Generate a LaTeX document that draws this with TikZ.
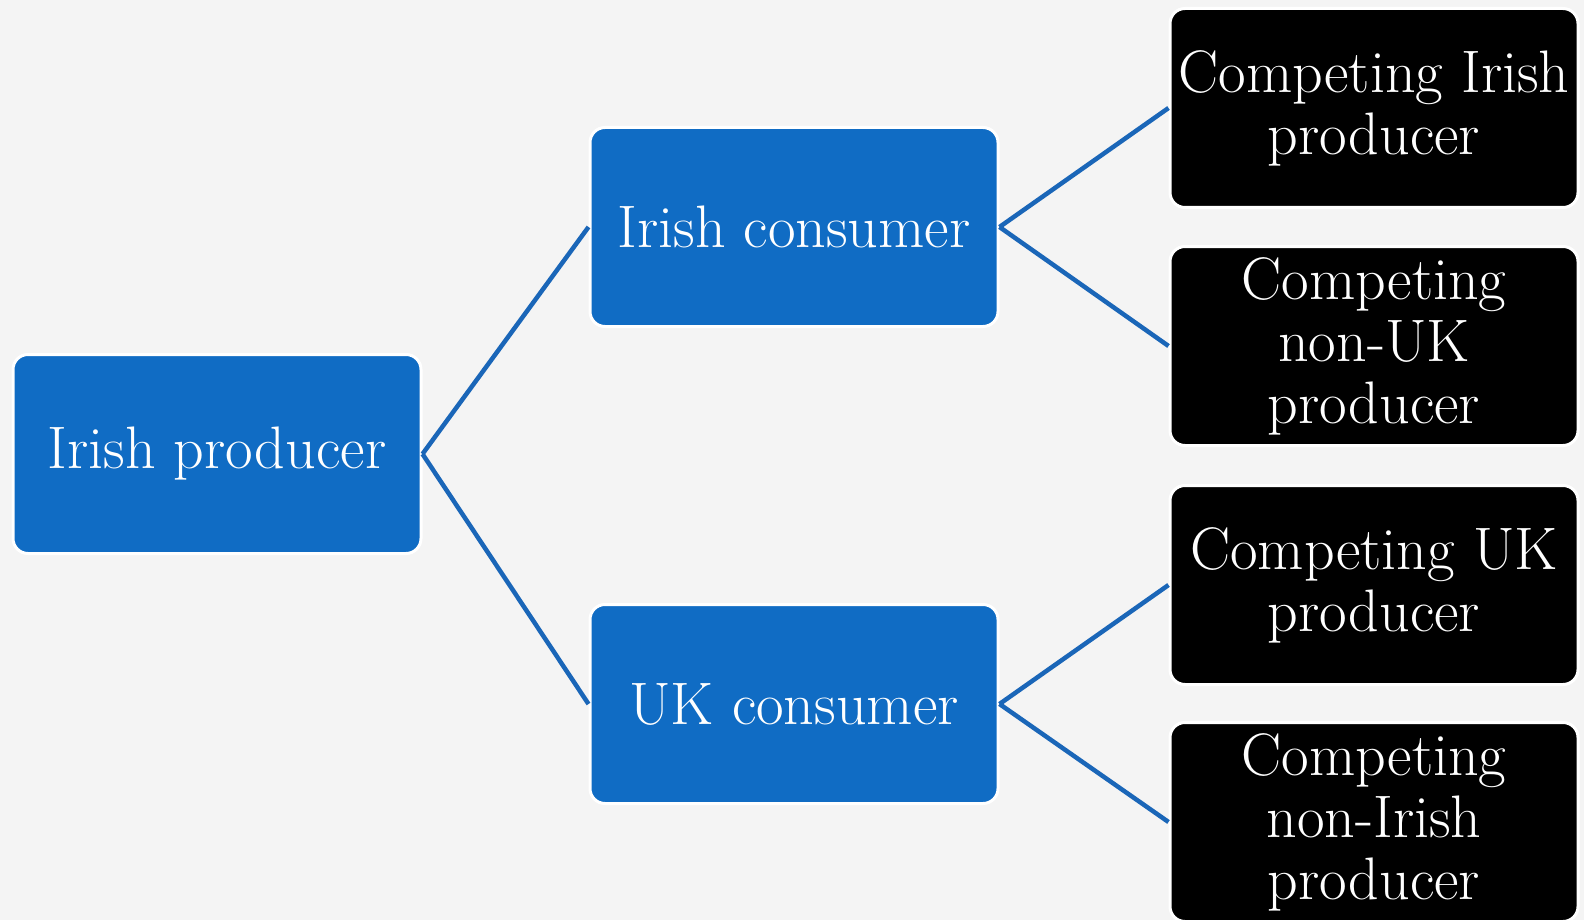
\documentclass[tikz,border=0pt]{standalone}
\usepackage{fontspec}
\definecolor{boxblue}{RGB}{16,108,196}
\definecolor{linkblue}{RGB}{26,102,184}
\definecolor{paper}{RGB}{244,244,244}

\begin{document}
\begin{tikzpicture}[x=1pt, y=-1pt,
    bluebox/.style={rectangle, rounded corners=15pt, fill=boxblue, draw=white, line width=3pt,
        text=white, inner sep=0pt, minimum width=408pt, minimum height=199pt,
        font=\fontsize{60}{62}\selectfont},
    blackbox/.style={bluebox, fill=black, align=center},
    link/.style={draw=linkblue, line width=4.5pt}]
     \useasboundingbox[fill=paper] (0,0) rectangle (1584,920);
     \node [bluebox] (P) at (217,454) {Irish producer};
     \node [bluebox] (IC) at (794,227) {Irish consumer};
     \node [bluebox] (UC) at (794,704) {UK consumer};
     \node [blackbox] (C1) at (1374,108) {Competing Irish\\producer};
     \node [blackbox] (C2) at (1374,346) {Competing\\non-UK\\producer};
     \node [blackbox] (C3) at (1374,585) {Competing UK\\producer};
     \node [blackbox] (C4) at (1374,822) {Competing\\non-Irish\\producer};
     \draw[link] (P.east) -- (IC.west);
     \draw[link] (P.east) -- (UC.west);
     \draw[link] (IC.east) -- (C1.west);
     \draw[link] (IC.east) -- (C2.west);
     \draw[link] (UC.east) -- (C3.west);
     \draw[link] (UC.east) -- (C4.west);
  \end{tikzpicture}
\end{document}
